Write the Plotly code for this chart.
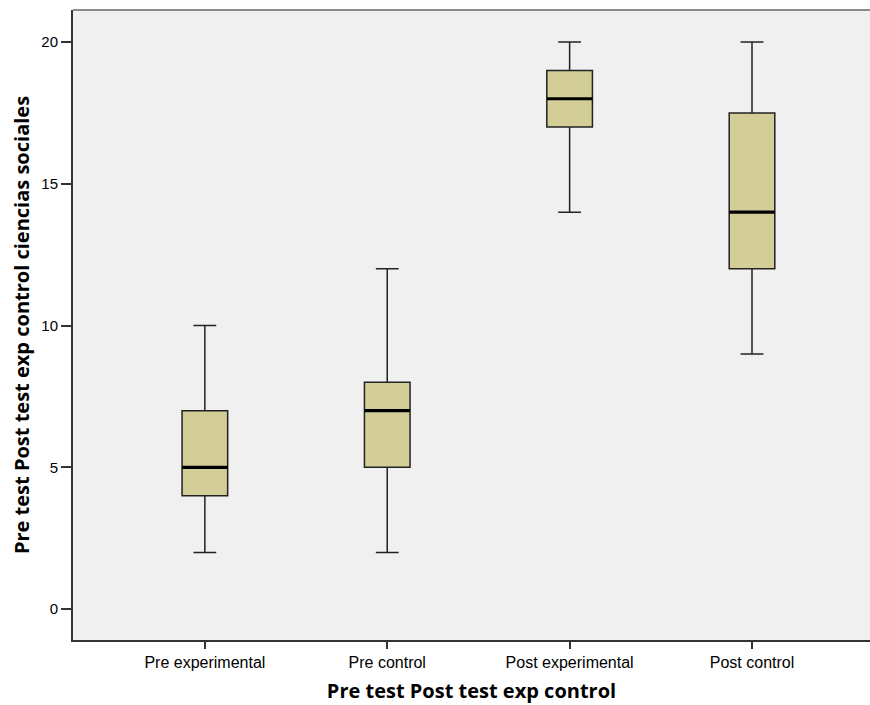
import plotly.graph_objects as go

categories = ["Pre experimental", "Pre control", "Post experimental", "Post control"]
lower_whisker = [2, 2, 14, 9]
q1_values = [4, 5, 17, 12]
median_values = [5, 7, 18, 14]
q3_values = [7, 8, 19, 17.5]
upper_whisker = [10, 12, 20, 20]
y_ticks = [0, 5, 10, 15, 20]

positions = list(range(len(categories)))
box_half = 0.125

fig = go.Figure()
fig.add_trace(go.Box(
    x=positions,
    q1=q1_values, median=median_values, q3=q3_values,
    lowerfence=lower_whisker, upperfence=upper_whisker,
    fillcolor="#D3CE97",
    line=dict(color="#222222", width=1.5),
    width=box_half * 2,
    whiskerwidth=0.5,
    boxpoints=False,
    hoverinfo="skip",
    showlegend=False,
))

mx, my = [], []
for p, m in zip(positions, median_values):
    mx += [p - box_half, p + box_half, None]
    my += [m, m, None]
fig.add_trace(go.Scatter(x=mx, y=my, mode="lines",
                         line=dict(color="black", width=3.2),
                         hoverinfo="skip", showlegend=False))

fig.add_shape(type="line", xref="paper", yref="paper", x0=0, x1=1, y0=1, y1=1,
              line=dict(color="#8a8a8a", width=2))

title_font = dict(family="Open Sans, sans-serif", size=20, color="black")

fig.update_layout(
    width=870, height=705,
    margin=dict(l=73, r=0, t=10, b=65),
    paper_bgcolor="white",
    plot_bgcolor="#F0F0F0",
    font=dict(family="Liberation Sans, Arial, sans-serif", color="black", size=16),
    xaxis=dict(
        range=[-0.723, 3.647],
        tickvals=positions, ticktext=categories,
        showgrid=False, zeroline=False,
        showline=True, linecolor="#333333", linewidth=2,
        ticks="outside", ticklen=7, tickcolor="#333333", tickwidth=1.5,
        tickfont=dict(size=16),
        title=dict(text="<b>Pre test Post test exp control</b>", font=title_font, standoff=14),
    ),
    yaxis=dict(
        range=[-1.09, 21.13],
        tickvals=y_ticks,
        showgrid=False, zeroline=False,
        showline=True, linecolor="#333333", linewidth=2,
        ticks="outside", ticklen=10, tickcolor="#333333", tickwidth=1.5,
        tickfont=dict(size=15),
        title=dict(text="<b>Pre test Post test exp control ciencias sociales</b>", font=title_font, standoff=6),
    ),
)

fig.write_html("out.html", post_script="document.body.style.margin='0';",
               config={"displayModeBar": False})
